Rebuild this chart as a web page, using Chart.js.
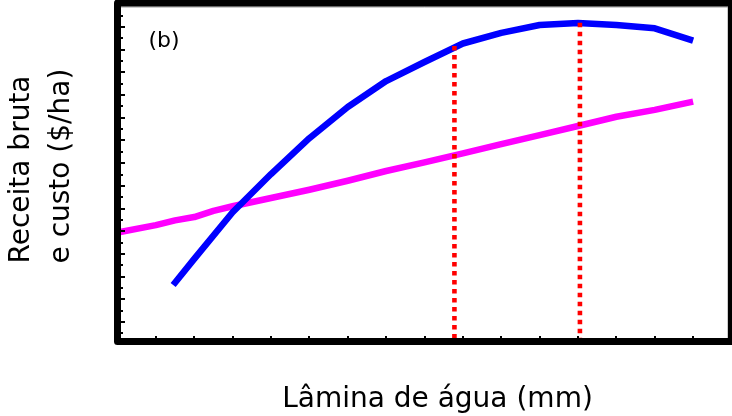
<!DOCTYPE html>
<html>
<head>
<meta charset="utf-8">
<script src="https://cdn.jsdelivr.net/npm/chart.js@4/dist/chart.umd.min.js"></script>
<style>
  html, body { margin: 0; padding: 0; background: #ffffff; }
  #wrap { width: 732px; height: 416px; position: relative; }
</style>
</head>
<body>
<div id="wrap"><canvas id="c" width="732" height="416"></canvas></div>
<script>
// ---- data (axis units = tick steps) ----
const xTitle = 'Lâmina de água (mm)';
const yTitleLines = ['Receita bruta', 'e custo ($/ha)'];
const panelLabel = '(b)';

const xTicks = [1, 2, 3, 4, 5, 6, 7, 8, 9, 10, 11, 12, 13, 14, 15];
const yTicks = [0, 1, 2, 3, 4, 5, 6, 7, 8, 9, 10, 11, 12, 13, 14, 15, 16, 17, 18, 19, 20, 21, 22, 23, 24, 25, 26, 27, 28];

const laminaReceita = [1.45, 2, 3, 4, 5, 6, 7, 8, 9, 10, 11, 12, 13, 14, 15];
const receitaBruta  = [4.26, 6.56, 10.67, 14.04, 17.20, 19.95, 22.24, 23.92, 25.55, 26.49, 27.18, 27.36, 27.18, 26.89, 25.80];

const laminaCusto = [0, 1, 1.5, 2, 2.5, 3, 4, 5, 6, 7, 8, 9, 10, 11, 12, 13, 14, 15];
const custo       = [8.89, 9.54, 9.96, 10.25, 10.80, 11.20, 11.93, 12.66, 13.45, 14.31, 15.07, 15.86, 16.68, 17.48, 18.28, 19.09, 19.70, 20.42];

const refLamina = [8.78, 12.05];
const refTop    = [25.33, 27.38];

const xMin = 0, xMax = 16;
const yMin = -0.72, yMax = 29.12;

// ---- build datasets ----
function pts(xs, ys) { return xs.map((x, i) => ({ x: x, y: ys[i] })); }

const datasets = [
  {
    label: 'Custo',
    data: pts(laminaCusto, custo),
    borderColor: '#ff00ff',
    borderWidth: 6.5,
    borderCapStyle: 'butt',
    borderJoinStyle: 'round',
    pointRadius: 0,
    tension: 0,
    order: 2
  },
  {
    label: 'Receita bruta',
    data: pts(laminaReceita, receitaBruta),
    borderColor: '#0000ff',
    borderWidth: 6.5,
    borderCapStyle: 'butt',
    borderJoinStyle: 'round',
    pointRadius: 0,
    tension: 0,
    order: 1
  }
];
refLamina.forEach((lx, i) => {
  datasets.push({
    label: 'ref' + i,
    data: [{ x: lx, y: refTop[i] }, { x: lx, y: yMin }],
    borderColor: '#ff0000',
    borderWidth: 4.6,
    borderDash: [4.5, 4.5],
    borderCapStyle: 'butt',
    pointRadius: 0,
    order: 0
  });
});

const framePlugin = {
  id: 'frame',
  afterDatasetsDraw(chart) {
    const { ctx, chartArea: a, scales } = chart;
    const xs = scales.x, ys = scales.y;
    ctx.save();
    ctx.strokeStyle = '#000';
    ctx.lineCap = 'butt';
    ctx.lineWidth = 2;
    const inL = a.left + 3.5, inB = a.bottom - 3.5;
    yTicks.forEach(v => {
      const py = Math.round(ys.getPixelForValue(v));
      const len = (v % 2 === 1) ? 4 : 2;
      ctx.beginPath(); ctx.moveTo(inL, py); ctx.lineTo(inL + len, py); ctx.stroke();
    });
    xTicks.forEach(v => {
      const px = Math.round(xs.getPixelForValue(v));
      ctx.beginPath(); ctx.moveTo(px, inB); ctx.lineTo(px, inB - 2); ctx.stroke();
    });
    // thin grey inner edge (as in the reference)
    ctx.strokeStyle = '#9a9a9a';
    ctx.lineWidth = 1;
    ctx.beginPath();
    ctx.moveTo(a.left + 3.5, a.top + 4); ctx.lineTo(a.right - 3.5, a.top + 4);
    ctx.lineTo(a.right - 3.5, a.bottom - 3.5);
    ctx.stroke();
    // black frame
    ctx.strokeStyle = '#000';
    ctx.lineWidth = 7;
    ctx.lineJoin = 'round';
    ctx.strokeRect(a.left, a.top, a.right - a.left, a.bottom - a.top);
    ctx.restore();
  },
  afterDraw(chart) {
    const ctx = chart.ctx;
    ctx.save();
    ctx.fillStyle = '#000';
    ctx.textBaseline = 'alphabetic';
    ctx.font = '28px "DejaVu Sans"';
    ctx.textAlign = 'center';
    ctx.fillText(xTitle, 437.5, 407);
    ctx.textAlign = 'left';
    const baseX = [28.5, 68.5];
    yTitleLines.forEach((t, i) => {
      ctx.save();
      ctx.translate(baseX[i], 263.5);
      ctx.rotate(-Math.PI / 2);
      ctx.fillText(t, 0, 0);
      ctx.restore();
    });
    ctx.font = '22px "DejaVu Sans"';
    ctx.fillText(panelLabel, 148.5, 47);
    ctx.restore();
  }
};

new Chart(document.getElementById('c'), {
  type: 'line',
  data: { datasets: datasets },
  options: {
    responsive: false,
    animation: false,
    devicePixelRatio: 1,
    layout: { padding: { left: 117.5, top: 3, right: 0.5, bottom: 74.5 } },
    plugins: { legend: { display: false }, tooltip: { enabled: false } },
    scales: {
      x: { type: 'linear', min: xMin, max: xMax, display: false },
      y: { type: 'linear', min: yMin, max: yMax, display: false }
    }
  },
  plugins: [framePlugin]
});
</script>
</body>
</html>
